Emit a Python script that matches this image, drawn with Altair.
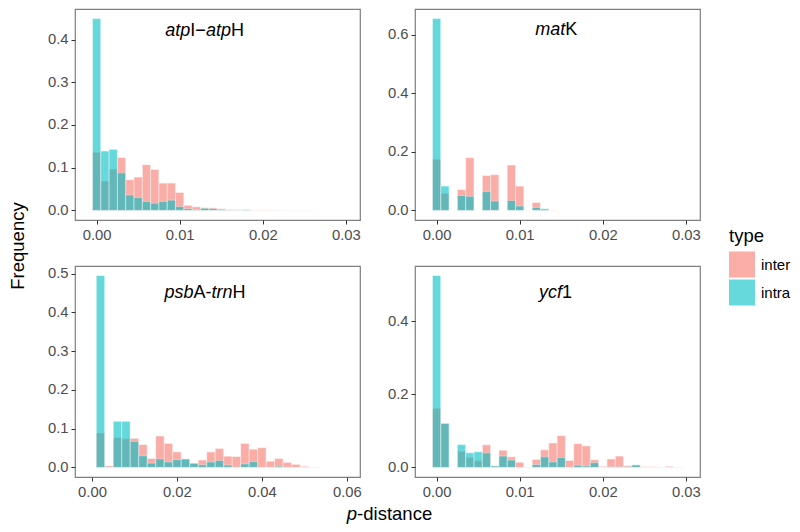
import altair as alt
import pandas as pd

FONT = "Liberation Sans"
TYPES = ["inter", "intra"]
COLORS = ["#F8766D", "#00BFC4"]

# ---- data (relative frequency per p-distance bin) ----
# atpI-atpH : bins of width 0.001 starting at 0.000
atp_start, atp_width = 0.0, 0.001
atp_inter = [0.136, 0.069, 0.097, 0.124, 0.072, 0.078, 0.107, 0.096, 0.064, 0.064,
             0.042, 0.012, 0.0085, 0.006, 0.006, 0.004, 0.002, 0.002, 0.001, 0.001,
             0.001, 0.0008, 0.0006, 0.0005, 0.0004, 0.0003, 0.0002]
atp_intra = [0.449, 0.139, 0.143, 0.088, 0.036, 0.030, 0.021, 0.017, 0.021, 0.024,
             0.009, 0.004, 0.002, 0.005, 0.004, 0.002, 0.001, 0.0005, 0.002, 0.0]

# matK : bins of width 0.001 starting at 0.000
mat_start, mat_width = 0.0, 0.001
mat_inter = [0.175, 0.059, 0.0, 0.071, 0.180, 0.0, 0.119, 0.122, 0.0, 0.155,
             0.083, 0.0, 0.027, 0.003, 0.001]
mat_intra = [0.655, 0.083, 0.0, 0.051, 0.048, 0.0, 0.064, 0.032, 0.0, 0.034,
             0.015, 0.0, 0.010, 0.0055, 0.0]

# psbA-trnH : bins of width 0.002 starting at 0.002
psb_start, psb_width = 0.002, 0.002
psb_inter = [0.089, 0.004, 0.077, 0.074, 0.075, 0.059, 0.023, 0.081, 0.062, 0.040,
             0.021, 0.010, 0.019, 0.040, 0.049, 0.029, 0.028, 0.062, 0.047, 0.051,
             0.016, 0.023, 0.013, 0.008, 0.003, 0.001, 0.0005]
psb_intra = [0.495, 0.0, 0.119, 0.119, 0.067, 0.030, 0.011, 0.022, 0.014, 0.020,
             0.022, 0.011, 0.007, 0.014, 0.018, 0.006, 0.0, 0.009, 0.015, 0.0,
             0.0, 0.003]

# ycf1 : bins of width 0.001 starting at 0.000
ycf_start, ycf_width = 0.0, 0.001
ycf_inter = [0.162, 0.121, 0.0, 0.044, 0.027, 0.018, 0.062, 0.004, 0.047, 0.029,
             0.014, 0.001, 0.022, 0.048, 0.067, 0.087, 0.019, 0.065, 0.059, 0.021,
             0.003, 0.023, 0.031, 0.005, 0.006, 0.002, 0.002, 0.001, 0.003, 0.001]
ycf_intra = [0.525, 0.120, 0.0, 0.0625, 0.040, 0.043, 0.040, 0.004, 0.031, 0.020,
             0.0, 0.0, 0.008, 0.029, 0.015, 0.027, 0.0, 0.006, 0.004, 0.013,
             0.0, 0.002, 0.002, 0.002, 0.007]

# panel labels: (text piece, italic?)
atp_label = [("atp", True), ("I\u2212", False), ("atp", True), ("H", False)]
mat_label = [("mat", True), ("K", False)]
psb_label = [("psb", True), ("A-", False), ("trn", True), ("H", False)]
ycf_label = [("ycf", True), ("1", False)]

x_ticks_03 = [0.0, 0.01, 0.02, 0.03]
x_ticks_06 = [0.0, 0.02, 0.04, 0.06]

# ---- helpers ----
EM = {"a": .556, "t": .278, "p": .556, "I": .278, "\u2212": .584, "H": .722, "m": .833,
      "K": .667, "s": .5, "b": .556, "A": .667, "-": .333, "r": .333, "n": .556,
      "y": .5, "c": .5, "f": .278, "1": .556, "d": .556, "i": .222, "e": .556}


def text_width(s, size):
    return sum(EM.get(ch, 0.556) for ch in s) * size


def make_df(start, width, inter, intra):
    rows = []
    for t, vals in (("inter", inter), ("intra", intra)):
        for i, v in enumerate(vals):
            if v > 0:
                c = start + i * width
                rows.append({"lo": c - width / 2, "hi": c + width / 2,
                             "freq": v, "base": 0.0, "type": t})
    return pd.DataFrame(rows)


W, H = 285, 211
LEG = alt.Legend(title="type", orient="none", legendX=654, legendY=218,
                 titleFontSize=18.5, titleFont=FONT, titleFontWeight="normal",
                 titleColor="black", titlePadding=6,
                 labelFontSize=15, labelFont=FONT, labelColor="black",
                 symbolType="square", symbolSize=676, symbolOpacity=0.6,
                 symbolStrokeWidth=0, rowPadding=2, labelOffset=6)


def piece_offsets(pieces, size):
    total = sum(text_width(t, size) for t, _ in pieces)
    off = -total / 2
    out = []
    for t, it in pieces:
        out.append((t, it, off))
        off += text_width(t, size)
    return out


def panel(start, width, inter, intra, ymax, xdom, xticks, yticks, label, tx, ty, extras=()):
    df = make_df(start, width, inter, intra)
    ydom = [-0.05 * ymax, 1.05 * ymax]
    xs = alt.Scale(domain=xdom, nice=False, zero=False)
    ys = alt.Scale(domain=ydom, nice=False, zero=False)
    xax = alt.Axis(values=xticks, format=".2f", title=None)
    yax = alt.Axis(values=yticks, format=".1f", title=None)

    def X(f):
        return alt.X(f, type="quantitative", scale=xs, axis=xax)

    def Y(f):
        return alt.Y(f, type="quantitative", scale=ys, axis=yax)

    layers = []
    for t in TYPES:
        layers.append(
            alt.Chart(df).transform_filter(alt.datum.type == t)
            .mark_rect(opacity=0.6, stroke="white", strokeWidth=0.5)
            .encode(x=X("lo"), x2="hi", y=Y("freq"), y2="base",
                    color=alt.Color("type:N",
                                    scale=alt.Scale(domain=TYPES, range=COLORS),
                                    legend=LEG))
        )
    pos = pd.DataFrame({"lo": [tx], "freq": [ty]})
    for t, it, off in piece_offsets(label, 18):
        layers.append(
            alt.Chart(pos).mark_text(text=t, align="left", baseline="middle", dx=off,
                                     font=FONT, fontSize=18,
                                     fontStyle="italic" if it else "normal",
                                     color="black")
            .encode(x=X("lo"), y=Y("freq"))
        )
    layers.extend(extras)
    return alt.layer(*layers).properties(width=W, height=H)


one = pd.DataFrame({"k": [0]})
freq_title = alt.Chart(one).mark_text(text="Frequency", angle=270, align="center",
                                      baseline="middle", font=FONT, fontSize=18.5,
                                      color="black").encode(x=alt.value(-57), y=alt.value(-20))
pd_layers = []
for t, it, off in piece_offsets([("p", True), ("-distance", False)], 18.5):
    pd_layers.append(
        alt.Chart(one).mark_text(text=t, align="left", baseline="middle", dx=off,
                                 font=FONT, fontSize=18.5,
                                 fontStyle="italic" if it else "normal", color="black")
        .encode(x=alt.value(W + 27.5 + 2), y=alt.value(H + 36.5))
    )

p1 = panel(atp_start, atp_width, atp_inter, atp_intra, 0.449, [-0.0026, 0.0317],
           x_ticks_03, [0.0, 0.1, 0.2, 0.3, 0.4], atp_label, 0.013, 0.42)
p2 = panel(mat_start, mat_width, mat_inter, mat_intra, 0.655, [-0.0026, 0.0317],
           x_ticks_03, [0.0, 0.2, 0.4, 0.6], mat_label, 0.0144, 0.615)
p3 = panel(psb_start, psb_width, psb_inter, psb_intra, 0.495, [-0.0040, 0.0631],
           x_ticks_06, [0.0, 0.1, 0.2, 0.3, 0.4, 0.5], psb_label, 0.0266, 0.449,
           extras=[freq_title] + pd_layers)
p4 = panel(ycf_start, ycf_width, ycf_inter, ycf_intra, 0.525, [-0.0026, 0.0317],
           x_ticks_03, [0.0, 0.2, 0.4], ycf_label, 0.0143, 0.477)

chart = (
    alt.concat(p1, p2, p3, p4, columns=2, bounds="flush",
               spacing={"row": 46, "column": 55})
    .resolve_scale(x="independent", y="independent", color="shared")
    .properties(padding={"left": 0, "top": 0, "right": 0, "bottom": 0})
    .configure_axis(labelFont=FONT, labelFontSize=14.8, labelColor="#4D4D4D",
                    tickColor="#333333", tickSize=4, tickWidth=1, labelPadding=3,
                    domain=False, grid=False)
    .configure_view(stroke="#7F7F7F", strokeWidth=1.2)
)

chart.save("out.html", embed_options={"renderer": "svg", "actions": False})
